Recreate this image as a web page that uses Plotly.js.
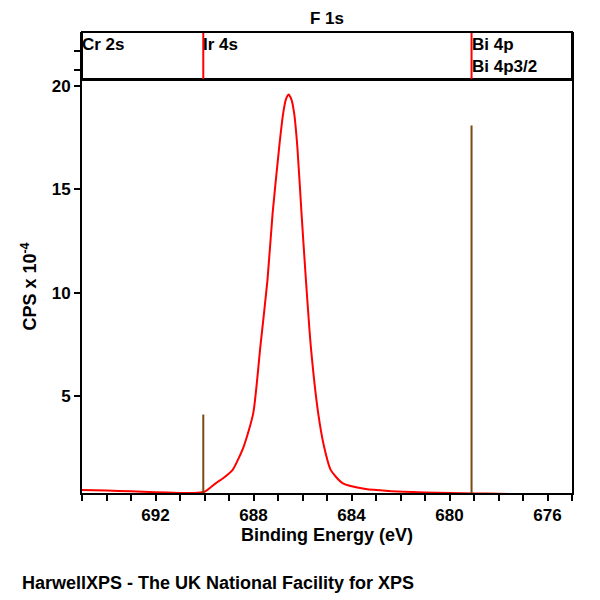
<!DOCTYPE html>
<html>
<head>
<meta charset="utf-8">
<script src="https://cdn.plot.ly/plotly-3.0.1.min.js"></script>
<style>body{margin:0;background:#fff}#chart{width:600px;height:600px}</style>
</head>
<body>
<div id="chart"></div>
<script>
// F 1s spectrum, binding energy (eV) and CPS x 10^-4
const bindingEnergy = [695.0, 694.0, 693.0, 692.0, 691.0, 690.5, 690.0, 689.53, 689.2, 688.85, 688.4, 688.01,
  687.72, 687.43, 687.22, 686.95, 686.79, 686.68, 686.57, 686.45, 686.34, 686.21, 686.04, 685.86, 685.66, 685.36,
  685.12, 684.85, 684.37, 683.42, 682.5, 681.0, 680.0, 679.0, 678.0, 677.0, 676.0, 675.0];
const cps = [0.45, 0.42, 0.38, 0.34, 0.3, 0.3, 0.36, 0.78, 1.05, 1.42, 2.55, 4.17,
  7.39, 10.61, 13.84, 17.06, 18.68, 19.35, 19.6, 19.35, 18.68, 17.06, 13.84, 10.61, 7.39, 4.17,
  2.55, 1.42, 0.78, 0.49, 0.4, 0.33, 0.3, 0.28, 0.26, 0.24, 0.22, 0.2];

// reference peak markers
const markerEnergy = [690.05, 679.1];
const markerHeight = [4.1, 18.1];

// top panel element labels
const labelEnergy = [695.0, 690.05, 679.1, 679.1];
const labelText = ['Cr 2s', 'Ir 4s', 'Bi 4p', 'Bi 4p3/2'];
const labelRow = [0.74, 0.74, 0.74, 0.28];
const lineEnergy = [690.05, 679.1];

const font = { family: 'Liberation Sans, Arial, sans-serif', size: 17, color: '#000', weight: 'bold' };

const traces = [
  {
    x: bindingEnergy, y: cps, mode: 'lines', line: { color: '#ff0000', width: 2, shape: 'spline', smoothing: 0.6 },
    hoverinfo: 'skip'
  },
  ...markerEnergy.map((e, i) => ({
    x: [e, e], y: [0, markerHeight[i]], mode: 'lines', line: { color: '#7a4a10', width: 2 }, hoverinfo: 'skip'
  })),
  ...lineEnergy.map(e => ({
    x: [e, e], y: [0, 1], yaxis: 'y2', mode: 'lines', line: { color: '#ff0000', width: 2 }, hoverinfo: 'skip'
  }))
];

const annotations = labelText.map((t, i) => ({
  x: labelEnergy[i], y: labelRow[i], xref: 'x', yref: 'y2', text: t,
  showarrow: false, xanchor: 'left', yanchor: 'middle', xshift: -2, font: font
}));
annotations.push({
  x: (20 - 82) / 490, y: -90 / 461, xref: 'paper', yref: 'paper', xanchor: 'left', yanchor: 'middle',
  showarrow: false, text: 'HarwellXPS - The UK National Facility for XPS', font: { ...font, size: 18 }
});

const layout = {
  width: 600, height: 600,
  margin: { l: 82, r: 28, t: 32, b: 107 },
  paper_bgcolor: '#fff', plot_bgcolor: '#fff',
  showlegend: false,
  font: font,
  title: { text: 'F 1s', x: 0.5, xref: 'paper', y: 1 - 18 / 600, yanchor: 'middle', font: font },
  xaxis: {
    range: [695, 675], dtick: 4, tick0: 676, ticks: 'outside', ticklen: 6, tickwidth: 2, tickcolor: '#000',
    minor: { dtick: 1, ticks: 'outside', ticklen: 6, tickwidth: 2, tickcolor: '#000' },
    showline: true, linewidth: 2, linecolor: '#000', mirror: true, showgrid: false, zeroline: false,
    tickfont: font,
    title: { text: 'Binding Energy (eV)', font: { ...font, size: 18 }, standoff: 2 }
  },
  yaxis: {
    domain: [0, 413 / 461], range: [0.3, 20.3], tickvals: [5, 10, 15, 20], ticks: 'outside', ticklen: 6,
    tickwidth: 2, tickcolor: '#000', showline: true, linewidth: 2, linecolor: '#000', mirror: true,
    showgrid: false, zeroline: false, tickfont: font,
    title: { text: 'CPS x 10<sup>-4</sup>', font: { ...font, size: 18 }, standoff: 10 }
  },
  yaxis2: {
    domain: [413 / 461, 1], range: [0, 1], tickvals: [0.2, 0.6], showticklabels: false, ticks: 'outside',
    ticklen: 6, tickwidth: 2, tickcolor: '#000', showline: true, linewidth: 2, linecolor: '#000', mirror: true,
    showgrid: false, zeroline: false, anchor: 'x'
  },
  shapes: [{
    type: 'rect', xref: 'paper', yref: 'paper', x0: 0, x1: 1, y0: 413 / 461, y1: 1,
    line: { color: '#000', width: 2 }
  }],
  annotations
};

Plotly.newPlot('chart', traces, layout, { displayModeBar: false, staticPlot: true });
</script>
</body>
</html>
